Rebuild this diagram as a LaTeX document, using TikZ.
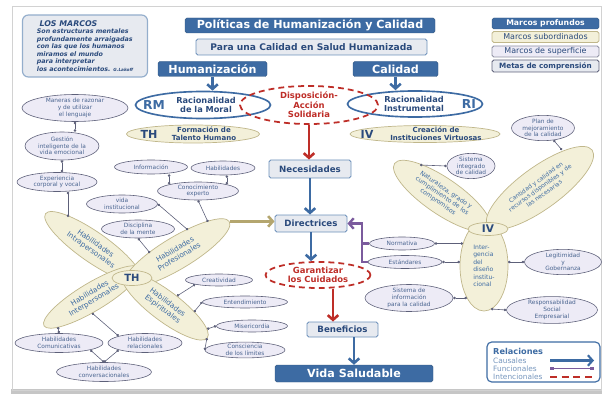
\documentclass[tikz,border=0pt]{standalone}
\usepackage{fontspec}
\setmainfont{DejaVu Sans}
\usetikzlibrary{shapes.geometric, arrows.meta}
\definecolor{hblue}{HTML}{3D6BA3}
\definecolor{hdark}{HTML}{2A4A7C}
\definecolor{hred}{HTML}{BE2E28}
\definecolor{olivo}{HTML}{B4A66F}
\definecolor{morado}{HTML}{7B5B9D}
\definecolor{lavanda}{HTML}{EDEBF6}
\definecolor{crema}{HTML}{F3F0D9}
\definecolor{cremaline}{HTML}{C0B78B}
\definecolor{satline}{HTML}{5D6079}
\definecolor{grisbox}{HTML}{E7EAF0}
\newcommand\setfs[2]{\fontsize{#1}{#2}\selectfont}
\tikzset{
  wh/.style 2 args={minimum width=#1*0.03cm, minimum height=#2*0.03cm},
  tbox/.style={fill=hblue, draw=hblue!80!black, rounded corners=1.5pt, text=white, font=\bfseries\setfs{9.5}{10}, inner sep=0pt},
  gbox/.style={fill=grisbox, draw=hblue!75, line width=0.8pt, rounded corners=1.5pt, text=hdark, font=\bfseries\setfs{7.4}{8.5}, inner sep=0pt},
  sat/.style={ellipse, fill=lavanda, draw=satline, line width=0.5pt, text=hdark!85, font=\setfs{5}{5.7}, align=center, inner sep=0pt},
  petal/.style={ellipse, fill=crema, draw=cremaline, line width=0.6pt, text=hblue, font=\setfs{6.2}{7}, align=center, inner sep=0pt},
  racio/.style={ellipse, fill=white, draw=hblue, line width=1.4pt, inner sep=0pt},
  intdash/.style={ellipse, draw=hred, line width=1.5pt, dash pattern=on 5pt off 3.5pt, text=hred, font=\bfseries\setfs{7.2}{8.2}, align=center, inner sep=0pt},
  lbl/.style={inner sep=0pt, text=hdark, align=center},
  causal/.style={draw=hblue, line width=2.2pt, -{Straight Barb[length=4pt, width=9pt]}},
  intenc/.style={causal, draw=hred},
  purp/.style={causal, draw=morado, line width=2pt},
  func/.style={draw=satline, line width=0.5pt, {Circle[length=2.2pt]}-{Circle[length=2.2pt]}},
}
\begin{document}
\begin{tikzpicture}[x=0.03cm, y=-0.03cm]
\useasboundingbox(0,0)rectangle(606,396);
\fill[gray!45](11,389)rectangle(602,394);
\draw[gray!35, line width=0.6pt](12,6)rectangle(601,390);

\node[gbox, wh={125}{62}, rounded corners=5pt, line width=1pt, draw=hblue!55, align=left, font=\bfseries\itshape\setfs{5.4}{6.4}](marcos)at(85,46){{\setfs{6.7}{7.4}\ LOS MARCOS}\\Son estructuras mentales\\profundamente arraigadas\\con las que los humanos\\miramos el mundo\\para interpretar\\los acontecimientos. {\setfs{3.6}{4}G.Lakoff}};
\node[tbox, wh={250}{15}](titulo)at(310,25.5){Políticas de Humanización y Calidad};
\node[gbox, wh={231}{16}, font=\bfseries\setfs{7.8}{8.5}](lema)at(311.5,47){Para una Calidad en Salud Humanizada};
\node[tbox, wh={109}{15}](human)at(212.5,69){Humanización};
\node[tbox, wh={85}{15}](calid)at(395.5,69){Calidad};
\node[tbox, wh={107}{11}, font=\bfseries\setfs{6.6}{7}](mprof)at(545.5,23.5){Marcos profundos};
\node[gbox, wh={107}{11}, fill=crema, draw=cremaline, font=\setfs{6.8}{7}](msub)at(545.5,37){Marcos subordinados};
\node[gbox, wh={107}{11}, fill=lavanda, draw=satline!70, font=\setfs{6.8}{7}](msup)at(545.5,51.5){Marcos de superficie};
\node[gbox, wh={107}{12}, draw=satline, font=\bfseries\setfs{6.2}{7}](metas)at(545.5,66){Metas de comprensión};

\node[racio, wh={135}{27}](rm)at(203,105){};
\node[lbl, text=hblue, font=\bfseries\setfs{10.5}{10.5}](rmsig)at(154,105){RM};
\node[lbl, font=\bfseries\setfs{7}{8}](rmtxt)at(206,105){Racionalidad\\de la Moral};
\node[racio, wh={135}{26}](ri)at(415,104){};
\node[lbl, text=hblue, font=\bfseries\setfs{10.5}{10.5}](risig)at(469,104){RI};
\node[lbl, font=\bfseries\setfs{7}{8}](ritxt)at(414,104){Racionalidad\\Instrumental};
\node[intdash, wh={138}{38}](dispo)at(309,105){Disposición-\\Acción\\Solidaria};

\node[petal, wh={133}{18}](thform)at(193,134){};
\node[lbl, font=\bfseries\setfs{9.5}{9.5}](thsig)at(149,134){TH};
\node[lbl, font=\bfseries\setfs{6}{6.8}](thtxt)at(204,134){Formación de\\Talento Humano};
\node[petal, wh={150}{17}](ivform)at(425,134){};
\node[lbl, font=\bfseries\setfs{9.5}{9.5}](ivsig)at(367,134){IV};
\node[lbl, font=\bfseries\setfs{6}{6.8}](ivtxt)at(436,134){Creación de\\Instituciones Virtuosas};

\node[gbox, wh={82}{18}](neces)at(310,169){Necesidades};
\node[gbox, wh={72}{17}](direc)at(311,223.5){Directrices};
\node[intdash, wh={105}{26}](garan)at(318,275){Garantizar\\los Cuidados};
\node[gbox, wh={71}{15}](benef)at(342.5,329.5){Beneficios};
\node[tbox, wh={158}{17}](vidasal)at(354,373.5){Vida Saludable};

\node[petal, wh={116}{30}, rotate=-35](intra)at(93,247){Habilidades\\Intrapersonales};
\node[petal, wh={112}{28}, rotate=31](inter)at(92,297){Habilidades\\Interpersonales};
\node[petal, wh={122}{32}, rotate=31](profe)at(177,253){Habilidades\\Profesionales};
\node[petal, wh={106}{30}, rotate=-37](espir)at(165,306){Habilidades\\Espirituales};
\node[petal, wh={40}{15}, text=hdark, font=\bfseries\setfs{8.5}{8.5}](thcen)at(132,278){TH};

\node[sat, wh={106}{27}](maneras)at(75,108){Maneras de razonar\\y de utilizar\\el lenguaje};
\node[sat, wh={74}{28}](gestion)at(62,146){Gestión\\inteligente de la\\vida emocional};
\node[sat, wh={80}{19}](exper)at(57,182){Experiencia\\corporal y vocal};
\node[sat, wh={73}{14}](info)at(151,167){Información};
\node[sat, wh={64}{14}](habil)at(223,168){Habilidades};
\node[sat, wh={81}{18}](conoc)at(198,191){Conocimiento\\experto};
\node[sat, wh={71}{18}](vidainst)at(122,204){vida\\institucional};
\node[sat, wh={73}{18}](discip)at(138,229){Disciplina\\de la mente};
\node[sat, wh={88}{19}](comun)at(59,343){Habilidades\\Comunicativas};
\node[sat, wh={74}{19}](relac)at(145,343){Habilidades\\relacionales};
\node[sat, wh={95}{19}](conver)at(104,372){Habilidades\\conversacionales};
\node[sat, wh={67}{12}](creat)at(219,280){Creatividad};
\node[sat, wh={85}{12}](enten)at(245,302){Entendimiento};
\node[sat, wh={71}{12}](miser)at(252,326){Misericordia};
\node[sat, wh={80}{15}](consc)at(245,350){Consciencia\\de los límites};

\node[petal, wh={48}{90}, align=left, font=\setfs{5.2}{6.4}](interg)at(484,266){Inter-\\gencia\\del\\diseño\\institu-\\cional};
\node[petal, wh={115}{36}, rotate=-34.4, font=\setfs{5.3}{6.1}](natur)at(442,196){Naturaleza, grado y\\cumplimiento de los\\compromisos};
\node[petal, wh={129}{42}, rotate=36, font=\setfs{5.1}{6}](cantid)at(540,188){Cantidad y calidad en\\recursos disponibles y de\\las necesarias};
\node[petal, wh={40}{13}, text=hdark, font=\bfseries\setfs{9}{9}](ivcen)at(488,229){IV};

\node[sat, wh={63}{23}](plan)at(543,128){Plan de\\mejoramiento\\de la calidad};
\node[sat, wh={48}{25}](sistem)at(471,166){Sistema\\integrado\\de calidad};
\node[sat, wh={65}{13}](norma)at(402,243.5){Normativa};
\node[sat, wh={74}{13}](estand)at(405,262){Estándares};
\node[sat, wh={88}{27}](sisinf)at(409,298){Sistema de\\información\\para la calidad};
\node[sat, wh={77}{25}](legit)at(563,262){Legitimidad\\y\\Gobernanza};
\node[sat, wh={91}{26}](respon)at(552,310){Responsabilidad\\Social\\Empresarial};

\coordinate(cintra)at(68,217);
\coordinate(cvida)at(188,230);
\coordinate(cdisc)at(150,253);
\coordinate(cconoc)at(208,222);
\coordinate(cint1)at(58,327);
\coordinate(cint2)at(92,313);
\coordinate(cesp1)at(177,296);
\coordinate(cesp2)at(194,312);
\coordinate(cesp3)at(207,329);
\coordinate(cesp4)at(207,338);
\coordinate(cplan)at(562,150);
\coordinate(csist)at(420,165);
\coordinate(cnorm)at(463,243.5);
\coordinate(cestan)at(460,262);
\coordinate(csinf)at(467,298);
\coordinate(clegit)at(508,262);
\coordinate(cresp)at(491,309);
\coordinate(pj)at(362,262);

\draw[func](maneras.south)--(maneras.south|-gestion.north);
\draw[func](gestion.south)--(gestion.south|-exper.north);
\draw[func](cintra|-exper.south)--(cintra);
\draw[func](conoc.north west)--(conoc.north west|-info.south);
\draw[func](conoc.north east)--(conoc.north east|-habil.south);
\draw[func](conoc.south)--(cconoc);
\draw[func](vidainst.east)--(cvida);
\draw[func](discip.south)--(cdisc);
\draw[func](comun.north)--(cint1);
\draw[func](relac.north west)--(cint2);
\draw[func](conver.north)--(comun.south east);
\draw[func](conver.north)--(relac.south west);
\draw[func](creat.south west)--(cesp1);
\draw[func](enten.west)--(cesp2);
\draw[func](miser.west)--(cesp3);
\draw[func](consc.west)--(cesp4);
\draw[func](plan)--(cplan);
\draw[func](sistem.west)--(csist);
\draw[func](norma.east)--(cnorm);
\draw[func](estand.east)--(cestan);
\draw[func](sisinf.east)--(csinf);
\draw[func](legit.west)--(clegit);
\draw[func](respon.west)--(cresp);

\draw[causal](human.south)--(human.south|-rm.north);
\draw[causal](calid.south)--(calid.south|-ri.north);
\draw[intenc](dispo.south)--(dispo.south|-neces.north);
\draw[causal](neces.south)--(neces.south|-direc.north);
\draw[causal](direc.south)--(direc.south|-garan.north);
\draw[intenc]([xshift=0.45cm]garan.south)--([xshift=0.45cm]garan.south|-benef.north);
\draw[causal](vidasal.north|-benef.south)--(vidasal.north);
\draw[causal, draw=olivo](profe.east)--(profe.east-|direc.west);
\draw[purp](estand.west)--(pj)|-(direc.east);
\draw[purp, -](norma.west)--(norma.west-|pj);

\node[draw=hblue, line width=1pt, rounded corners=4pt, fill=white, wh={113}{40}](leyenda)at(543.5,362){};
\node[anchor=west, inner sep=0pt, text=hblue, font=\bfseries\setfs{7}{7}](lrel)at(493,351){Relaciones};
\node[anchor=west, inner sep=0pt, text=hblue!70, font=\setfs{6.3}{6.3}](lcaus)at(493,360.5){Causales};
\node[anchor=west, inner sep=0pt, text=hblue!70, font=\setfs{6.3}{6.3}](lfunc)at(493,368.5){Funcionales};
\node[anchor=west, inner sep=0pt, text=hblue!70, font=\setfs{6.3}{6.3}](linte)at(493,377){Intencionales};
\coordinate(la)at(550,0);
\coordinate(lb)at(594,0);
\draw[causal, line width=1.8pt](lcaus.east-|la)--(lcaus.east-|lb);
\draw[draw=morado, line width=1.4pt, {Square[length=3pt]}-{Square[length=3pt]}](lfunc.east-|la)--(lfunc.east-|lb);
\draw[hred, line width=1.8pt, dash pattern=on 6pt off 4pt](linte.east-|la)--(linte.east-|lb);
\end{tikzpicture}
\end{document}
